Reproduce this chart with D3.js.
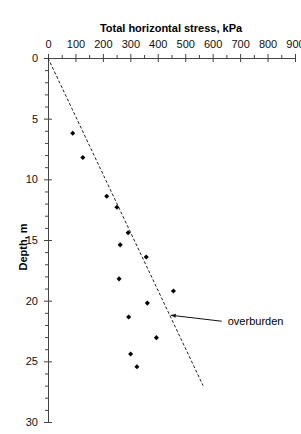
<!DOCTYPE html>
<html>
<head>
<meta charset="utf-8">
<script src="https://cdn.jsdelivr.net/npm/d3@7"></script>
<style>
body { margin: 0; background: #fff; }
svg { font-family: "Liberation Sans", Arial, sans-serif; }
</style>
</head>
<body>
<script>

// measured points (stress kPa, depth m)
const stress = [90, 127, 214, 251, 292, 263, 358, 259, 457, 362, 294, 395, 301, 324]
const depth = [6.2, 8.2, 11.4, 12.3, 14.4, 15.4, 16.4, 18.2, 19.2, 20.2, 21.35, 23.05, 24.4, 25.45]

// overburden line ends
const overStress = [0, 565]
const overDepth = [0, 27]

const xTicks = [0, 100, 200, 300, 400, 500, 600, 700, 800, 900]
const yTicks = [0, 5, 10, 15, 20, 25, 30]

const margin = {top: 58, left: 48}
const width = 247
const height = 364

const x = d3.scaleLinear().domain([0, 900]).range([0, width])
const y = d3.scaleLinear().domain([0, 30]).range([0, height])

const svg = d3.select('body').append('svg')
	.attr('width', 301)
	.attr('height', 434)

const g = svg.append('g')
	.attr('transform', 'translate(' + margin.left + ',' + margin.top + ')')

// minor ticks
g.append('g')
	.attr('class', 'x minor')
	.call(d3.axisTop(x).tickValues(d3.range(50, 900, 100)).tickSize(3).tickFormat(''))
	.call(a => a.select('.domain').remove())
g.append('g')
	.attr('class', 'y minor')
	.call(d3.axisLeft(y).tickValues(d3.range(0, 31).filter(d => d % 5 !== 0)).tickSize(3).tickFormat(''))
	.call(a => a.select('.domain').remove())

const xAxis = g.append('g')
	.attr('class', 'x axis')
	.call(d3.axisTop(x).tickValues(xTicks).tickSizeInner(4).tickSizeOuter(0).tickPadding(6))
xAxis.selectAll('.tick line').attr('y2', 4).attr('y1', -4)

const yAxis = g.append('g')
	.attr('class', 'y axis')
	.call(d3.axisLeft(y).tickValues(yTicks).tickSizeInner(4).tickSizeOuter(0).tickPadding(6))
yAxis.selectAll('.tick line').attr('x2', 4).attr('x1', -4)

g.selectAll('.axis text, .minor text')
	.style('font-size', '11px')
	.style('fill', '#111')
g.selectAll('.domain, .tick line')
	.attr('stroke', '#444')

svg.append('text')
	.attr('x', 171)
	.attr('y', 32)
	.attr('text-anchor', 'middle')
	.style('font-size', '11px')
	.style('font-weight', 'bold')
	.text('Total horizontal stress, kPa')

svg.append('text')
	.attr('transform', 'translate(27,247) rotate(-90)')
	.attr('text-anchor', 'middle')
	.style('font-size', '11px')
	.style('font-weight', 'bold')
	.text('Depth, m')

// overburden line
const line = d3.line()
	.x(function(d, i) { return x(overStress[i]) })
	.y(function(d, i) { return y(overDepth[i]) })
g.append('path')
	.datum(overStress)
	.attr('d', line)
	.attr('fill', 'none')
	.attr('stroke', '#222')
	.attr('stroke-width', 1)
	.attr('stroke-dasharray', '3,2')

// points (small diamonds)
g.selectAll('.pt')
	.data(stress)
	.enter().append('path')
	.attr('class', 'pt')
	.attr('d', d3.symbol().type(d3.symbolSquare).size(13))
	.attr('transform', function(d, i) { return 'translate(' + x(d) + ',' + y(depth[i]) + ') rotate(45)' })
	.attr('fill', '#000')

// annotation arrow
svg.append('defs').append('marker')
	.attr('id', 'arr')
	.attr('viewBox', '0 0 10 10')
	.attr('refX', 10).attr('refY', 5)
	.attr('markerWidth', 7).attr('markerHeight', 5)
	.attr('orient', 'auto')
	.append('path').attr('d', 'M0,1 L10,5 L0,9 Z').attr('fill', '#111')

const ad = 21.2
const ax = x(overStress[1] * ad / overDepth[1])
g.append('line')
	.attr('x1', ax + 52).attr('y1', y(ad) + 6)
	.attr('x2', ax + 1).attr('y2', y(ad))
	.attr('stroke', '#111')
	.attr('stroke-width', 1)
	.attr('marker-end', 'url(#arr)')
g.append('text')
	.attr('x', ax + 58)
	.attr('y', y(ad) + 10)
	.style('font-size', '11px')
	.text('overburden')

</script>
</body>
</html>
